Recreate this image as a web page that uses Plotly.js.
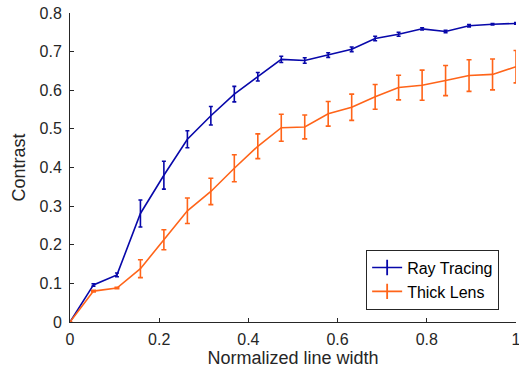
<!DOCTYPE html>
<html>
<head>
<meta charset="utf-8">
<script src="https://cdn.plot.ly/plotly-3.0.1.min.js"></script>
<style>html,body{margin:0;padding:0;background:#fff;}#chart{width:519px;height:370px;}</style>
</head>
<body>
<div id="chart"></div>
<script>
const xValues = [0, 0.0526, 0.1053, 0.1579, 0.2105, 0.2632, 0.3158, 0.3684, 0.4211, 0.4737, 0.5263, 0.5789, 0.6316, 0.6842, 0.7368, 0.7895, 0.8421, 0.8947, 0.9474, 1.0];
const rayTracing = [0, 0.096, 0.122, 0.281, 0.380, 0.473, 0.534, 0.590, 0.635, 0.680, 0.677, 0.691, 0.706, 0.734, 0.745, 0.759, 0.752, 0.767, 0.771, 0.773];
const rayTracingErr = [0, 0.003, 0.005, 0.035, 0.036, 0.022, 0.024, 0.020, 0.011, 0.008, 0.007, 0.006, 0.006, 0.006, 0.005, 0.003, 0.003, 0.003, 0.002, 0.002];
const thickLens = [0, 0.080, 0.088, 0.138, 0.213, 0.288, 0.338, 0.398, 0.455, 0.503, 0.505, 0.539, 0.556, 0.583, 0.607, 0.613, 0.625, 0.638, 0.641, 0.661];
const thickLensErr = [0, 0.002, 0.002, 0.023, 0.026, 0.033, 0.034, 0.035, 0.032, 0.035, 0.031, 0.032, 0.034, 0.032, 0.032, 0.039, 0.039, 0.041, 0.040, 0.042];
const seriesNames = ["Ray Tracing", "Thick Lens"];
const xTickVals = [0, 0.2, 0.4, 0.6, 0.8, 1];
const xTickText = ["0", "0.2", "0.4", "0.6", "0.8", "1"];
const yTickVals = [0, 0.1, 0.2, 0.3, 0.4, 0.5, 0.6, 0.7, 0.8];
const yTickText = ["0", "0.1", "0.2", "0.3", "0.4", "0.5", "0.6", "0.7", "0.8"];

const blue = "rgb(8,8,170)";
const orange = "rgb(255,100,25)";
const textColor = "#262626";

function dataTrace(y, err, color, cap) {
  return {
    x: xValues, y: y, type: "scatter", mode: "lines", showlegend: false,
    line: {color: color, width: 1.6},
    error_y: {type: "data", array: err, visible: true, color: color, thickness: 1.6, width: cap}
  };
}
function legendTrace(name, color) {
  return {
    x: [null], y: [null], name: name, type: "scatter", mode: "lines+markers",
    line: {color: color, width: 1.6},
    marker: {symbol: "line-ns-open", size: 11, color: color, line: {color: color, width: 1.8}}
  };
}

const traces = [
  dataTrace(rayTracing, rayTracingErr, blue, 2),
  dataTrace(thickLens, thickLensErr, orange, 2.5),
  legendTrace(seriesNames[0], blue),
  legendTrace(seriesNames[1], orange)
];

const layout = {
  width: 519, height: 370,
  margin: {l: 70, r: 3, t: 13, b: 48},
  paper_bgcolor: "#fff", plot_bgcolor: "#fff",
  font: {family: "Liberation Sans, Arial, sans-serif", size: 16, color: textColor},
  showlegend: true,
  legend: {
    x: 0.664, y: 0.04, xanchor: "left", yanchor: "bottom",
    bgcolor: "#fff", bordercolor: textColor, borderwidth: 1,
    font: {size: 16, color: "#000"}, tracegroupgap: 0, itemwidth: 30
  },
  xaxis: {
    range: [0, 1], tickvals: xTickVals, ticktext: xTickText, ticklabeloverflow: "allow",
    showgrid: false, zeroline: false, showline: true, linecolor: textColor, linewidth: 1,
    ticks: "inside", ticklen: 4, tickcolor: textColor, tickfont: {size: 16}, ticklabelstandoff: 3,
    title: {text: "Normalized line width", font: {size: 18}, standoff: 0},
    automargin: false, fixedrange: true
  },
  yaxis: {
    range: [0, 0.8], tickvals: yTickVals, ticktext: yTickText, ticklabeloverflow: "allow",
    showgrid: false, zeroline: false, showline: true, linecolor: textColor, linewidth: 1,
    ticks: "inside", ticklen: 4, tickcolor: textColor, tickfont: {size: 16}, ticklabelstandoff: 4,
    title: {text: "Contrast", font: {size: 18}, standoff: 9},
    automargin: false, fixedrange: true
  }
};

Plotly.newPlot("chart", traces, layout, {displayModeBar: false, staticPlot: true});
</script>
</body>
</html>
